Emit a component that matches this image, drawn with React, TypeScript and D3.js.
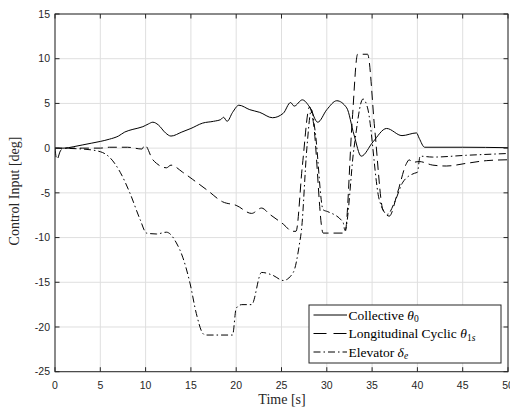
import React from "react";
import * as d3 from "d3";

const xTicks = [0, 5, 10, 15, 20, 25, 30, 35, 40, 45, 50];
const yTicks = [-25, -20, -15, -10, -5, 0, 5, 10, 15];

const collective: [number, number][] = [
  [0, 0], [1, 0], [2, 0.15], [3, 0.35], [4, 0.55], [5, 0.75], [6, 1.0], [7, 1.35], [7.7, 1.8], [8.6, 2.1],
  [9.7, 2.4], [10.3, 2.7], [10.8, 2.9], [11.4, 2.6], [12.2, 1.7], [12.8, 1.35], [14, 1.8], [15, 2.2],
  [16.3, 2.8], [17.5, 3.0], [18.3, 3.2], [18.6, 3.45], [19.0, 3.0], [19.6, 4.0], [20.3, 4.8],
  [21.5, 4.3], [22.6, 4.0], [24.0, 3.4], [25.2, 3.9], [26.0, 5.1], [26.4, 4.7], [27.3, 5.4],
  [28.1, 4.6], [29.0, 2.9], [30.0, 4.3], [31.1, 5.3], [32.2, 4.5], [33.0, 1.5], [33.8, -0.9],
  [35.1, 0.7], [36.6, 2.2], [38.3, 1.4], [39.9, 1.7], [40.2, 1.1], [40.8, 0.1], [45, 0.1], [50, 0.05],
];

const cyclic: [number, number][] = [
  [0, 0], [0.2, -1.3], [0.6, -0.3], [1, 0], [3, 0], [5, 0], [6, 0.1], [8, 0.1], [9.6, -0.1],
  [9.9, 0.35], [10.8, -1.3], [11.2, -1.7], [12.3, -2.2], [12.8, -1.9], [14.1, -2.7], [15.2, -3.5],
  [16.8, -4.7], [18.5, -6.0], [20.0, -6.4], [21.7, -7.3], [22.8, -6.7], [23.7, -7.4], [25.2, -8.5],
  [26.2, -9.3], [26.6, -9.3], [27.3, -2], [28.1, 4.6], [28.5, 3], [29.6, -9.5], [32.0, -9.5],
  [32.8, 3], [33.4, 10.5], [34.5, 10.5], [35.3, 2], [36.2, -6.9], [36.9, -7.6], [37.8, -5],
  [38.8, -1.7], [39.1, -1.3], [39.4, -1.6], [40.2, -1.5], [41.7, -1.9], [43.2, -2.0], [45.4, -1.7],
  [47.6, -1.4], [50, -1.3],
];

const elevator: [number, number][] = [
  [0, 0], [3, -0.1], [5, -0.4], [6, -1.0], [7.2, -2.7], [8.3, -5.1], [9.4, -8.0], [10.1, -9.5],
  [11.2, -9.6], [12.3, -9.4], [13.4, -10.6], [14.1, -12.2], [14.9, -15.1], [15.6, -18.5],
  [16.3, -20.7], [16.6, -20.9], [19.6, -20.9], [20.0, -17.9], [20.6, -17.5], [21.7, -17.5],
  [22.8, -13.9], [24, -14.2], [25.2, -14.8], [26.3, -13.9], [27.0, -10.6], [27.2, -9.2], [27.8, 0],
  [28.3, 4.3], [28.7, 2], [29.6, -6.9], [30.1, -7.1], [31.8, -8.3], [32.0, -9.2], [33.0, 0],
  [34.0, 5.5], [34.5, 4.5], [35.8, -5.8], [36.7, -7.4], [37.5, -6], [38.4, -3.8], [39.7, -2.8],
  [40.0, -2.7], [40.3, -0.9], [41.7, -1.0], [45.4, -0.8], [50, -0.6],
];

const L = 55, R = 508, T = 14, B = 371.7;
const AX = "#262626";
const GRID = "#dfdfdf";
const SERIF = "'Liberation Serif', 'DejaVu Serif', serif";
const SANS = "'Liberation Sans', Arial, Helvetica, sans-serif";

export default function App() {
  const x = d3.scaleLinear().domain([0, 50]).range([L, R]);
  const y = d3.scaleLinear().domain([-25, 15]).range([B, T]);
  const line = d3
    .line<[number, number]>()
    .x((d) => x(d[0]))
    .y((d) => y(d[1]))
    .curve(d3.curveMonotoneX);

  const series = [
    { data: collective, dash: "none" },
    { data: cyclic, dash: "9,5" },
    { data: elevator, dash: "7,3,1.5,3" },
  ];

  const lg = { x: 309, y: 305, w: 192, h: 58 };
  const rows = [315, 333.5, 352];

  return (
    <svg
      width={510}
      height={411}
      style={{ position: "absolute", left: 0, top: 0, background: "#fff" }}
    >
      <rect x={0} y={0} width={510} height={411} fill="#fff" />
      {xTicks.map((t) => (
        <line key={"gx" + t} x1={x(t)} x2={x(t)} y1={T} y2={B} stroke={GRID} strokeWidth={1} />
      ))}
      {yTicks.map((t) => (
        <line key={"gy" + t} x1={L} x2={R} y1={y(t)} y2={y(t)} stroke={GRID} strokeWidth={1} />
      ))}
      <clipPath id="clip">
        <rect x={L} y={T} width={R - L} height={B - T} />
      </clipPath>
      <g clipPath="url(#clip)">
        {series.map((s, i) => (
          <path
            key={i}
            d={line(s.data) || ""}
            fill="none"
            stroke="#000"
            strokeWidth={1}
            strokeDasharray={s.dash}
          />
        ))}
      </g>
      <rect x={L} y={T} width={R - L} height={B - T} fill="none" stroke={AX} strokeWidth={1} />
      {xTicks.map((t) => (
        <g key={"tx" + t}>
          <line x1={x(t)} x2={x(t)} y1={B} y2={B - 4.5} stroke={AX} />
          <line x1={x(t)} x2={x(t)} y1={T} y2={T + 4.5} stroke={AX} />
          <text
            x={x(t)}
            y={389}
            textAnchor="middle"
            fontFamily={SANS}
            fontSize={10.5}
            fill={AX}
          >
            {t}
          </text>
        </g>
      ))}
      {yTicks.map((t) => (
        <g key={"ty" + t}>
          <line x1={L} x2={L + 4.5} y1={y(t)} y2={y(t)} stroke={AX} />
          <line x1={R} x2={R - 4.5} y1={y(t)} y2={y(t)} stroke={AX} />
          <text
            x={50}
            y={y(t) + 3.7}
            textAnchor="end"
            fontFamily={SANS}
            fontSize={10.5}
            fill={AX}
          >
            {t}
          </text>
        </g>
      ))}
      <text x={282} y={404} textAnchor="middle" fontFamily={SERIF} fontSize={14} fill={AX}>
        Time [s]
      </text>
      <text
        transform={`translate(19, 191) rotate(-90)`}
        textAnchor="middle"
        fontFamily={SERIF}
        fontSize={14}
        fill={AX}
      >
        Control Input [deg]
      </text>
      <rect x={lg.x} y={lg.y} width={lg.w} height={lg.h} fill="#fff" stroke={AX} strokeWidth={1} />
      {series.map((s, i) => (
        <line
          key={"ll" + i}
          x1={313.5}
          x2={347}
          y1={rows[i]}
          y2={rows[i]}
          stroke="#000"
          strokeWidth={1}
          strokeDasharray={s.dash === "9,5" ? "13,7" : s.dash}
        />
      ))}
      <text x={348.5} y={rows[0] + 4.5} fontFamily={SERIF} fontSize={13.5} fill="#000">
        Collective <tspan fontStyle="italic">θ</tspan>
        <tspan fontSize={9.5} dy={2.5}>0</tspan>
      </text>
      <text x={348.5} y={rows[1] + 4.5} fontFamily={SERIF} fontSize={13.5} fill="#000">
        Longitudinal Cyclic <tspan fontStyle="italic">θ</tspan>
        <tspan fontSize={9.5} dy={2.5}>1</tspan>
        <tspan fontSize={9.5} fontStyle="italic">s</tspan>
      </text>
      <text x={348.5} y={rows[2] + 4.5} fontFamily={SERIF} fontSize={13.5} fill="#000">
        Elevator <tspan fontStyle="italic">δ</tspan>
        <tspan fontSize={9.5} fontStyle="italic" dy={2.5}>e</tspan>
      </text>
    </svg>
  );
}
